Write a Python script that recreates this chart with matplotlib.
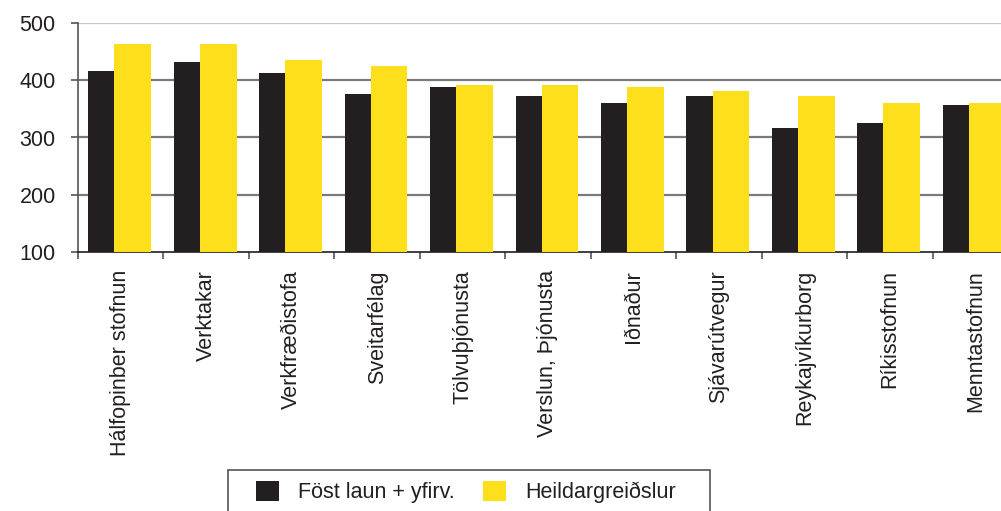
import numpy as np
import matplotlib.pyplot as plt
from matplotlib.patches import Rectangle

plt.rcParams['font.family'] = ['Liberation Sans', 'DejaVu Sans']

# Data #
categories = ['Hálfopinber stofnun', 'Verktakar', 'Verkfræðistofa', 'Sveitarfélag',
              'Tölvuþjónusta', 'Verslun, Þjónusta', 'Iðnaður', 'Sjávarútvegur',
              'Reykajvíkurborg', 'Ríkisstofnun', 'Menntastofnun']
fost_laun = [416, 432, 413, 376, 388, 373, 360, 373, 317, 325, 357]
heildar = [463, 463, 435, 425, 392, 392, 388, 381, 373, 360, 360]
series_names = ['Föst laun + yfirv.', 'Heildargreiðslur']

black = '#231f20'
yellow = '#fedf1b'
fs = 15.5

fig = plt.figure(figsize=(10.01, 5.11), dpi=100)
# axes runs off the right edge like the original #
ax = fig.add_axes([78 / 1001, 1 - 252 / 511, 940 / 1001, 229 / 511])

x = np.arange(len(categories))
w = 0.43
ax.bar(x - 0.165, fost_laun, width=w, color=black, label=series_names[0], zorder=3)
ax.bar(x + 0.14, heildar, width=w, color=yellow, label=series_names[1], zorder=4)

ax.set_ylim(100, 500)
ax.set_xlim(-0.5, len(categories) - 0.5)

# Gridlines #
for yv in [200, 300, 400]:
    ax.axhline(yv, color='#7a7a7a', lw=1.6, zorder=1)
ax.axhline(500, color='#c8c8c8', lw=1.6, zorder=1)

for s in ['top', 'right']:
    ax.spines[s].set_visible(False)
ax.spines['left'].set_color('#555555')
ax.spines['bottom'].set_color(black)
ax.spines['left'].set_linewidth(1.2)
ax.spines['bottom'].set_linewidth(1.2)

ax.set_yticks([100, 200, 300, 400, 500])
ax.tick_params(axis='y', direction='out', length=5, width=1.2, color='#555555',
               labelsize=fs, labelcolor=black, pad=11)

ax.set_xticks(x)
ax.set_xticklabels(categories, rotation=90, fontsize=fs, color=black)
ax.tick_params(axis='x', which='major', length=0, pad=13)
ax.set_xticks(np.arange(len(categories) + 1) - 0.5, minor=True)
ax.tick_params(axis='x', which='minor', direction='out', length=5, width=1.2, color='#555555')

# Legend without its own frame, box drawn separately #
leg = fig.legend(loc='center', bbox_to_anchor=(466 / 1001, 1 - 492 / 511),
                 ncol=2, frameon=False, fontsize=fs,
                 handlelength=1.07, handleheight=1.07, handletextpad=0.88,
                 columnspacing=1.3, borderpad=0, borderaxespad=0)
for t in leg.get_texts():
    t.set_color(black)
fig.patches.append(Rectangle((228 / 1001, -0.05), (710 - 228) / 1001, 0.05 + 1 - 470 / 511,
                             transform=fig.transFigure, fill=False,
                             edgecolor='#555555', linewidth=1.2))

plt.savefig('out.png', dpi=100)
